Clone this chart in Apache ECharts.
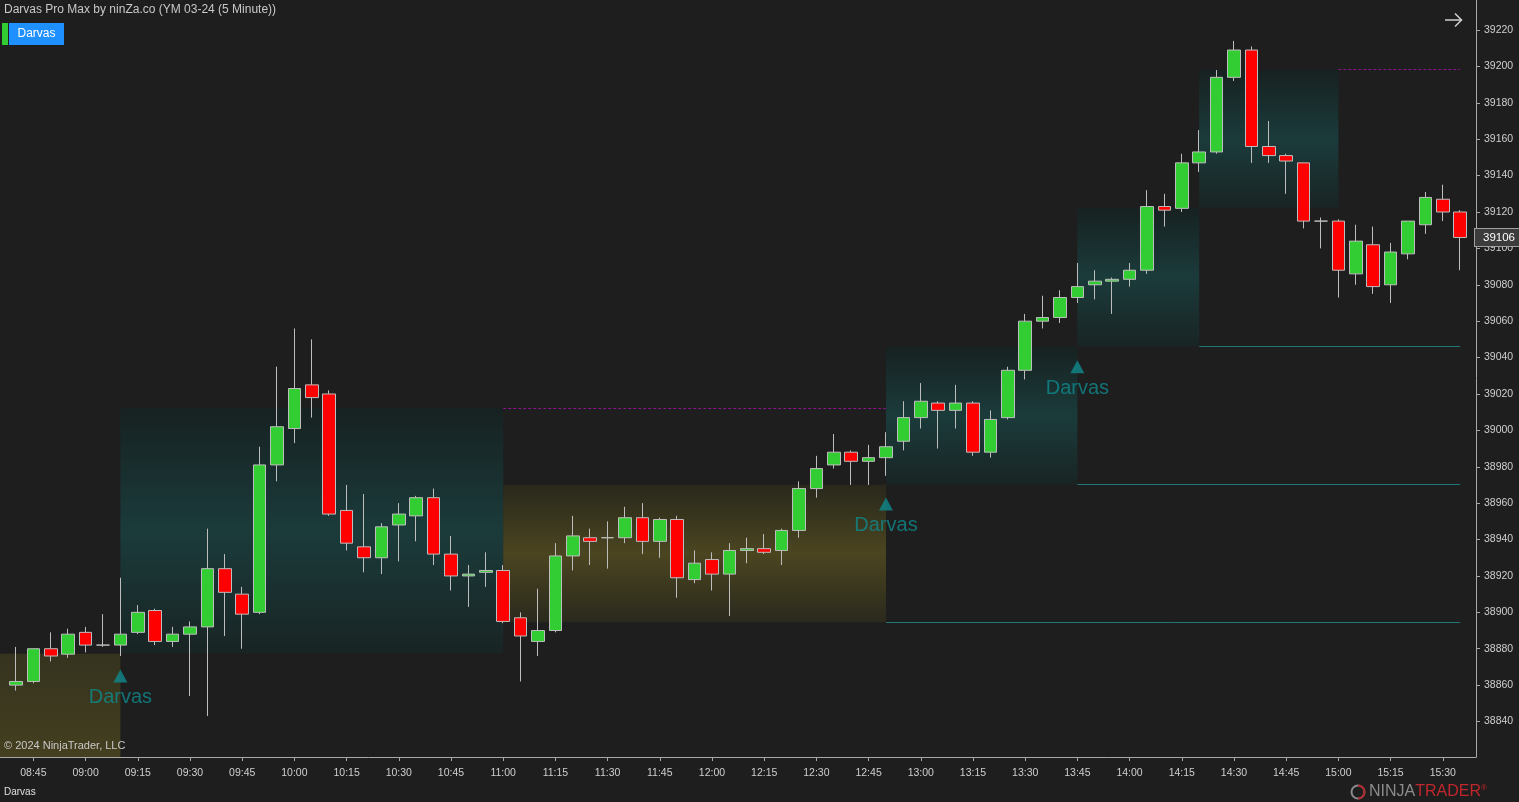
<!DOCTYPE html>
<html>
<head>
<meta charset="utf-8">
<title>Darvas Pro Max - YM 03-24 (5 Minute)</title>
<script src="https://cdn.jsdelivr.net/npm/echarts@6.0.0/dist/echarts.min.js"></script>
<style>
html, body { margin: 0; padding: 0; background: #1e1e1e; }
#chart { width: 1519px; height: 802px; }
</style>
</head>
<body>
<div id="chart"></div>
<script>
// 5 minute bars
var times = ['08:40','08:45','08:50','08:55',
    '09:00','09:05','09:10','09:15','09:20','09:25','09:30','09:35','09:40','09:45','09:50','09:55',
    '10:00','10:05','10:10','10:15','10:20','10:25','10:30','10:35','10:40','10:45','10:50','10:55',
    '11:00','11:05','11:10','11:15','11:20','11:25','11:30','11:35','11:40','11:45','11:50','11:55',
    '12:00','12:05','12:10','12:15','12:20','12:25','12:30','12:35','12:40','12:45','12:50','12:55',
    '13:00','13:05','13:10','13:15','13:20','13:25','13:30','13:35','13:40','13:45','13:50','13:55',
    '14:00','14:05','14:10','14:15','14:20','14:25','14:30','14:35','14:40','14:45','14:50','14:55',
    '15:00','15:05','15:10','15:15','15:20','15:25','15:30','15:35'];

var opens = [38860,38862,38880,38877,38889,38882,38882,38889,38901,38884,
    38888,38892,38924,38910,38900,38981,39001,39025,39020,38956,
    38936,38930,38948,38953,38963,38932,38920,38922,38923,38897,
    38884,38890,38931,38941,38941,38941,38952,38939,38951,38918,
    38929,38921,38934,38935,38934,38945,38968,38981,38988,38983,
    38985,38994,39007,39015,39011,39015,38988,39007,39033,39060,
    39062,39073,39080,39082,39083,39088,39123,39122,39147,39153,
    39194,39209,39156,39151,39147,39115,39115,39086,39102,39080,
    39097,39113,39127,39120];

var closes = [38862,38880,38876,38888,38882,38882,38888,38900,38884,38888,
    38892,38924,38911,38899,38981,39002,39023,39018,38954,38938,
    38930,38947,38954,38963,38932,38920,38921,38923,38895,38887,
    38890,38931,38942,38939,38941,38952,38939,38951,38919,38927,
    38921,38934,38935,38933,38945,38968,38979,38988,38983,38985,
    38991,39007,39016,39011,39015,38988,39006,39033,39060,39062,
    39073,39079,39082,39083,39088,39123,39121,39147,39153,39194,
    39209,39156,39151,39148,39115,39115,39088,39104,39079,39098,
    39115,39128,39120,39106];

var lows = [38857,38861,38873,38875,38878,38881,38876,38888,38882,38881,
    38854,38843,38887,38880,38899,38972,38993,39007,38953,38934,
    38922,38921,38928,38939,38926,38912,38903,38914,38894,38862,
    38876,38889,38923,38926,38924,38938,38932,38930,38908,38916,
    38912,38898,38927,38932,38926,38941,38963,38979,38970,38970,
    38975,38989,39001,38990,39001,38986,38985,39006,39028,39056,
    39059,39070,39072,39064,39079,39086,39112,39120,39142,39152,
    39192,39147,39147,39130,39111,39100,39073,39080,39075,39070,
    39094,39108,39115,39088];

var highs = [38881,38880,38889,38891,38892,38899,38919,38904,38902,38892,
    38895,38946,38932,38914,38991,39035,39056,39050,39022,38970,
    38965,38949,38960,38964,38968,38942,38926,38933,38926,38900,
    38913,38938,38953,38946,38950,38958,38960,38952,38953,38934,
    38933,38938,38941,38943,38946,38972,38986,38998,38989,38992,
    38999,39016,39026,39016,39025,39016,39011,39035,39064,39074,
    39077,39092,39088,39084,39092,39132,39130,39152,39165,39198,
    39214,39211,39170,39152,39147,39117,39116,39113,39112,39103,
    39115,39131,39135,39121];

var timeLabels = ['08:45','09:00','09:15','09:30','09:45','10:00','10:15','10:30','10:45',
    '11:00','11:15','11:30','11:45','12:00','12:15','12:30','12:45','13:00','13:15',
    '13:30','13:45','14:00','14:15','14:30','14:45','15:00','15:15','15:30'];

var priceLabels = [38840,38860,38880,38900,38920,38940,38960,38980,39000,39020,
    39040,39060,39080,39100,39120,39140,39160,39180,39200,39220];

// Darvas boxes (bar index from / to, top, bottom)
var boxFrom   = [-1, 6, 28, 50, 61, 68];
var boxTo     = [6, 28, 50, 61, 68, 76];
var boxTop    = [38877.3, 39012.3, 38970.1, 39046.1, 39122.4, 39198.0];
var boxBottom = [38820.5, 38877.6, 38894.5, 38970.1, 39046.1, 39122.4];
var boxKind   = ['olive', 'teal', 'olive', 'teal', 'teal', 'teal'];

// box levels carried forward
var levelFrom  = [28, 76, 50, 61, 68];
var levelTo    = [50, 83, 83, 83, 83];
var levelPrice = [39012.3, 39198.6, 38894.5, 38970.4, 39046.1];
var levelKind  = ['top', 'top', 'bottom', 'bottom', 'bottom'];

// Darvas signals
var signalBar   = [6, 50, 61];
var signalPrice = [38865, 38959.5, 39035];

var lastClose = closes[closes.length - 1];

var candleData = times.map(function (t, i) {
    return [i, opens[i], closes[i], lows[i], highs[i]];
});

function grad(stops) {
    return new echarts.graphic.LinearGradient(0, 0, 0, 1, stops);
}

var boxAreas = boxFrom.map(function (s, i) {
    var color;
    if (i === 0) {
        color = grad([{offset: 0, color: '#35331f'}, {offset: 1, color: '#443f1f'}]);
    } else if (boxKind[i] === 'olive') {
        color = grad([{offset: 0, color: '#29281c'}, {offset: 0.5, color: '#4b4520'}, {offset: 1, color: '#2a291d'}]);
    } else {
        color = grad([{offset: 0, color: '#172121'}, {offset: 0.5, color: '#1b3b3b'}, {offset: 1, color: '#192424'}]);
    }
    return [
        {coord: [s, boxTop[i]], itemStyle: {color: color}},
        {coord: [boxTo[i], boxBottom[i]]}
    ];
});

var levelLines = levelFrom.map(function (s, i) {
    var top = levelKind[i] === 'top';
    return [
        {coord: [s, levelPrice[i]], lineStyle: {
            color: top ? '#8b138b' : '#1f7676',
            type: top ? [3, 2] : 'solid',
            width: 1
        }},
        {coord: [levelTo[i], levelPrice[i]]}
    ];
});

var chart = echarts.init(document.getElementById('chart'));
var font = 'Liberation Sans, Arial, sans-serif';
var xTickValues = timeLabels.map(function (t) { return times.indexOf(t); });

chart.setOption({
    backgroundColor: '#1e1e1e',
    animation: false,
    grid: {left: 0, right: 43, top: 0, bottom: 45},
    xAxis: {
        type: 'value',
        min: -0.92,
        max: 83.91,
        axisLine: {show: true, onZero: false, lineStyle: {color: '#a8a8a8', width: 1}},
        axisTick: {
            show: true, length: 4,
            lineStyle: {color: '#a8a8a8'},
            customValues: xTickValues
        },
        axisLabel: {
            color: '#cfcfcf', fontSize: 10.5, fontFamily: font, margin: 11,
            customValues: xTickValues,
            formatter: function (v) { return times[v] || ''; }
        },
        splitLine: {show: false}
    },
    yAxis: {
        type: 'value',
        position: 'right',
        min: 38820.5,
        max: 39236.5,
        axisLine: {show: true, onZero: false, lineStyle: {color: '#a8a8a8', width: 1}},
        axisTick: {show: true, length: 4, lineStyle: {color: '#a8a8a8'}, customValues: priceLabels},
        axisLabel: {
            color: '#cfcfcf', fontSize: 10.5, fontFamily: font, margin: 8,
            customValues: priceLabels,
            formatter: function (v) { return String(v); }
        },
        splitLine: {show: false}
    },
    series: [
        {
            name: 'boxes',
            type: 'line',
            data: [],
            z: 1,
            markArea: {silent: true, data: boxAreas},
            markLine: {silent: true, symbol: 'none', label: {show: false}, data: levelLines}
        },
        {
            name: 'YM 03-24',
            type: 'candlestick',
            z: 3,
            barWidth: 13,
            encode: {x: 0, y: [1, 2, 3, 4]},
            data: candleData,
            itemStyle: {
                color: '#32cd32',
                color0: '#ff0000',
                borderColor: '#bdbdbd',
                borderColor0: '#bdbdbd',
                borderColorDoji: '#bdbdbd',
                borderWidth: 1
            }
        },
        {
            name: 'Darvas',
            type: 'scatter',
            z: 4,
            symbol: 'triangle',
            symbolSize: [14, 13],
            itemStyle: {color: '#0f8a8c'},
            label: {
                show: true,
                position: 'bottom',
                distance: 5,
                formatter: 'Darvas',
                color: '#0f8a8c',
                fontSize: 20,
                fontFamily: font
            },
            data: signalBar.map(function (b, i) { return [b, signalPrice[i]]; })
        },
        {
            name: 'last',
            type: 'line',
            data: [],
            clip: false,
            z: 6,
            markLine: {
                silent: true,
                symbol: 'none',
                lineStyle: {color: 'rgba(0,0,0,0)', width: 1},
                label: {
                    show: true,
                    position: 'end',
                    distance: -1,
                    formatter: String(lastClose),
                    color: '#ffffff',
                    fontSize: 11.5,
                    fontFamily: font,
                    backgroundColor: '#3c3c3c',
                    borderColor: '#a0a0a0',
                    borderWidth: 1,
                    padding: [3, 6, 2, 8]
                },
                data: [{yAxis: lastClose}]
            }
        }
    ],
    graphic: [
        {type: 'text', left: 4, top: 4, z: 100,
            style: {text: 'Darvas Pro Max by ninZa.co (YM 03-24 (5 Minute))', fill: '#c8c8c8', font: '12px ' + font}},
        {type: 'rect', shape: {x: 2, y: 23, width: 6, height: 22}, style: {fill: '#32cd32'}, z: 100},
        {type: 'rect', shape: {x: 9, y: 23, width: 55, height: 22}, style: {fill: '#1e90ff'}, z: 100},
        {type: 'text', x: 36.5, y: 34, z: 101,
            style: {text: 'Darvas', fill: '#ffffff', font: '12px ' + font, align: 'center', verticalAlign: 'middle'}},
        {type: 'polyline', z: 100, shape: {points: [[1445, 20], [1462, 20]]}, style: {stroke: '#d0d0d0', lineWidth: 1.5}},
        {type: 'polyline', z: 100, shape: {points: [[1455, 13.5], [1461.5, 20], [1455, 26.5]]}, style: {stroke: '#d0d0d0', lineWidth: 1.5, fill: null}},
        {type: 'text', left: 4, top: 740, z: 100,
            style: {text: '\u00a9 2024 NinjaTrader, LLC', fill: '#c8c8c8', font: '11px ' + font}},
        {type: 'text', left: 4, top: 787, z: 100,
            style: {text: 'Darvas', fill: '#e0e0e0', font: '10px ' + font}},
        {type: 'circle', z: 100, shape: {cx: 1358, cy: 792, r: 6.5}, style: {stroke: '#8a8a8a', lineWidth: 2, fill: null}},
        {type: 'arc', z: 101, shape: {cx: 1358, cy: 792, r: 6.5, startAngle: -Math.PI / 2, endAngle: Math.PI / 2}, style: {stroke: '#b0262c', lineWidth: 2, fill: null}},
        {type: 'text', left: 1369, top: 784, z: 100,
            style: {
                text: '{a|NINJA}{b|TRADER}{c|\u00ae}',
                rich: {
                    a: {fill: '#8c8c8c', font: '16px ' + font},
                    b: {fill: '#c0272d', font: '16px ' + font},
                    c: {fill: '#c0272d', font: '8px ' + font, verticalAlign: 'top'}
                }
            }}
    ]
});
</script>
</body>
</html>
